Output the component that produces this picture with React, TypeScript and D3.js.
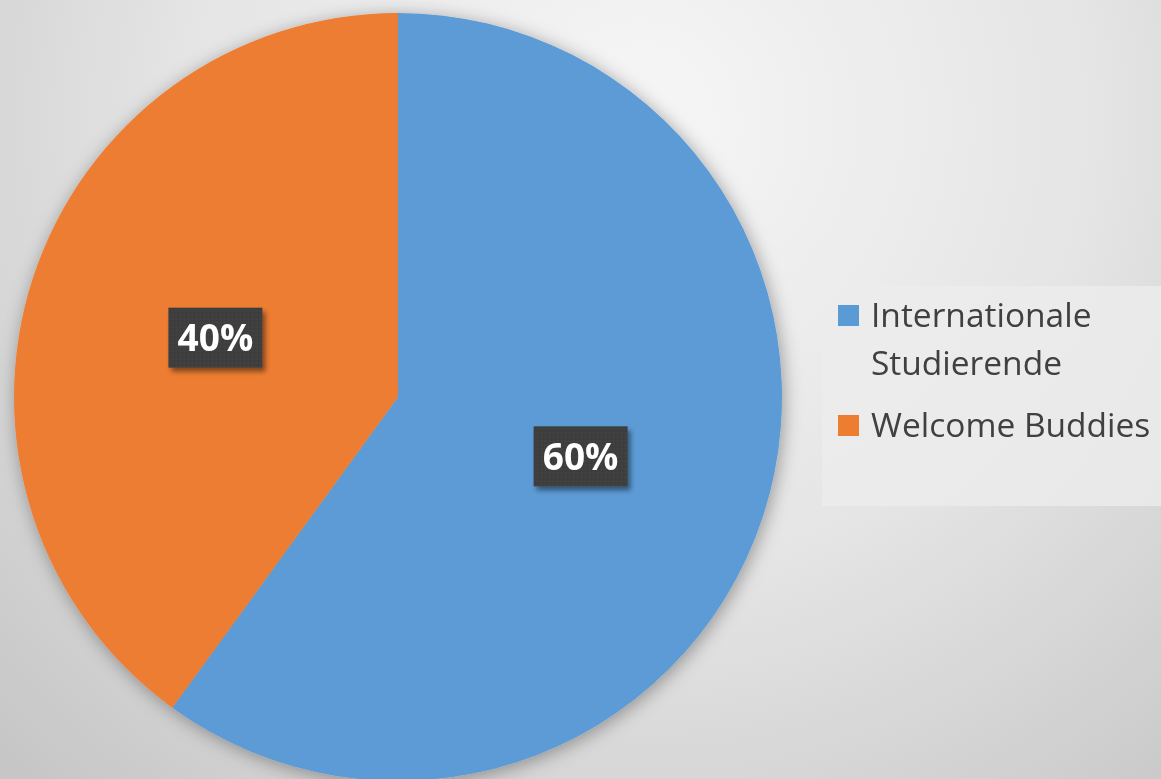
import * as d3 from 'd3';

const categories = ['Internationale Studierende', 'Welcome Buddies'];
const legendLines = [['Internationale', 'Studierende'], ['Welcome Buddies']];
const values = [60, 40];
const colors = ['#5b9bd5', '#ed7d31'];

const width = 1161;
const height = 779;
const cx = 398;
const cy = 397;
const radius = 384;

const App = () => {
  const pie = d3.pie<number>().sort(null).value(d => d);
  const arcs = pie(values);
  const arc = d3.arc<d3.PieArcDatum<number>>().innerRadius(0).outerRadius(radius);
  const labelArc = d3.arc<d3.PieArcDatum<number>>().innerRadius(radius * 0.5).outerRadius(radius * 0.5);
  const total = d3.sum(values);
  const fmt = d3.format('.0%');

  return (
    <svg
      width={width}
      height={height}
      viewBox={`0 0 ${width} ${height}`}
      style={{ position: 'fixed', left: 0, top: 0, display: 'block' }}
      fontFamily="'Open Sans', sans-serif"
    >
      <defs>
        <radialGradient id="bg" gradientUnits="userSpaceOnUse" cx={640} cy={120} r={900}>
          <stop offset="0" stopColor="#f6f6f6" />
          <stop offset="0.5" stopColor="#e5e5e5" />
          <stop offset="1" stopColor="#c6c6c6" />
        </radialGradient>
        <filter id="pieShadow" x="-20%" y="-20%" width="140%" height="140%">
          <feDropShadow dx="2" dy="3" stdDeviation="9" floodColor="#000" floodOpacity="0.35" />
        </filter>
        <filter id="boxShadow" x="-30%" y="-30%" width="160%" height="160%">
          <feDropShadow dx="3" dy="4" stdDeviation="2.5" floodColor="#000" floodOpacity="0.45" />
        </filter>
        <pattern id="dots" width="4" height="4" patternUnits="userSpaceOnUse">
          <rect width="4" height="4" fill="#3d3d3d" />
          <circle cx="1" cy="1" r="0.8" fill="#4a4a4a" />
        </pattern>
      </defs>

      <rect width={width} height={height} fill="url(#bg)" />

      <g transform={`translate(${cx},${cy})`}>
        <g filter="url(#pieShadow)">
          {arcs.map((a, i) => (
            <path key={categories[i]} d={arc(a) ?? ''} fill={colors[i]} />
          ))}
        </g>
        {arcs.map((a, i) => {
          const [x, y] = labelArc.centroid(a);
          return (
            <g key={`l-${categories[i]}`} transform={`translate(${x},${y})`}>
              <rect x={-47} y={-30} width={94} height={60} fill="url(#dots)" filter="url(#boxShadow)" />
              <text
                textAnchor="middle"
                dy="0.36em"
                fill="#fff"
                fontSize={37}
                fontWeight={700}
              >
                {fmt(a.data / total)}
              </text>
            </g>
          );
        })}
      </g>

      <g>
        <rect x={822} y={286} width={345} height={220} fill="#ececec" fillOpacity={0.8} />
        {legendLines.map((lines, i) => {
          const y0 = i === 0 ? 327 : 437;
          return (
            <g key={categories[i]}>
              <rect x={838} y={y0 - 22} width={21} height={21} fill={colors[i]} />
              {lines.map((ln, j) => (
                <text key={ln} x={871} y={y0 + j * 48} fontSize={33.5} fill="#404040">
                  {ln}
                </text>
              ))}
            </g>
          );
        })}
      </g>
    </svg>
  );
};

export default App;
